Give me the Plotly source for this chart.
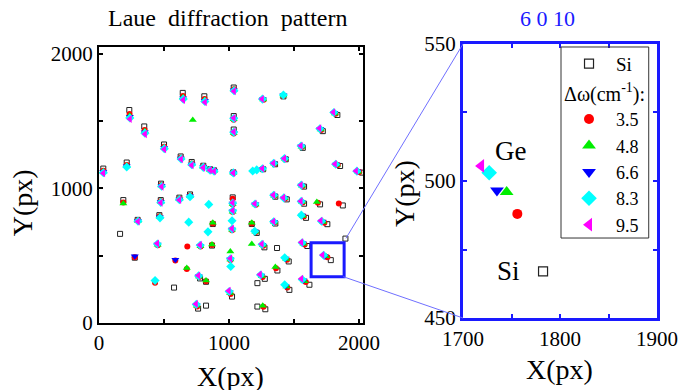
import plotly.graph_objects as go

# ---------------- data (pixel coordinates of Laue spots) ----------------
si_x = [644, 810, 1036, 1418, 233, 1036, 1833, 348, 1036, 1721, 500, 1567, 628, 713, 802,
        854, 885, 1033, 1262, 1354, 1436, 1854, 2023, 33, 213, 477, 1577, 187, 475, 618,
        700, 1028, 1356, 1444, 1577, 1700, 1875, 464, 297, 875, 1175, 1356, 1592, 1756, 162,
        1213, 869, 1272, 1369, 1602, 1895, 275, 1782.5, 1459, 1372, 777, 823, 1275, 1618, 577,
        1218, 1464, 1023, 762, 823, 1218, 1279]
si_y = [1709, 1684, 1749, 1683, 1582, 1537, 1545, 1460, 1437, 1425, 1326, 1301, 1237, 1196, 1168,
        1142, 1134, 1119, 1142, 1179, 1216, 1166, 1117, 1147, 1192, 1035, 1013, 913, 913, 931,
        955, 933, 938, 918, 886, 881, 873, 801, 766, 735, 735, 739, 781, 734, 662,
        669, 575, 562, 557, 572, 627, 485, 467, 457, 390, 331, 306, 328, 284, 263,
        296, 246, 196, 107, 129, 122, 102]

# Δω = 3.5 cm-1
d35_x = [646, 812, 1037, 235, 1819, 351, 1709, 501, 1560, 629, 713, 802, 854, 885, 1033,
         1259, 1348, 1431, 1836, 2002, 33, 479, 1566, 475, 618, 1349, 1432, 1566, 298, 1349,
         1733, 1263, 1581, 1756, 771, 1258, 1590, 1012, 755,
         1266, 1036, 1036, 1028, 1028, 1206, 1023, 452, 781, 1010,
         1418, 213, 700, 1575, 1206, 1446, 1448, 466, 431,
         187, 1683, 875, 1175, 869, 675, 1361, 823, 1265,
         1028, 679, 1844, 275, 587]
d35_y = [1686, 1664, 1737, 1552, 1554, 1434, 1434, 1310, 1308, 1228, 1185, 1162, 1138, 1131, 1117,
         1144, 1183, 1219, 1173, 1122, 1131, 1025, 1018, 904, 923, 943, 924, 895, 761, 746,
         745, 573, 584, 488, 341, 342, 304, 215, 123,
         1658, 1510, 1408, 881, 824, 878, 689, 578, 568, 468,
         1688, 1174, 947, 791, 675, 469, 264, 793, 299,
         895, 893, 739, 739, 579, 402, 407, 311, 121,
         923, 569, 888, 489, 464]

# Δω = 4.8 cm-1
d48_x = [646, 813, 1037, 236, 1814, 352, 1705, 501, 1558, 630, 713, 802, 854, 885, 1033,
         1258, 1346, 1429, 1830, 1994, 33, 480, 1562, 475, 618, 1347, 1428, 1562, 299, 1347,
         1724, 1260, 1573, 1745, 769, 1252, 1580, 1008, 752,
         1263, 1036, 1036, 1028, 1028, 1204, 1023, 451, 780, 1010,
         1418, 213, 700, 1568, 1203, 1440, 1441, 467,
         721, 187, 1675, 875, 1175, 869, 1010, 1175, 675, 1356, 823, 1259]
d48_y = [1677, 1657, 1732, 1540, 1557, 1425, 1438, 1304, 1310, 1224, 1181, 1159, 1137, 1130, 1116,
         1145, 1184, 1220, 1175, 1124, 1125, 1021, 1020, 901, 920, 945, 926, 898, 759, 748,
         750, 577, 589, 496, 345, 348, 311, 223, 129,
         1660, 1513, 1411, 884, 827, 880, 692, 581, 571, 471,
         1690, 1168, 944, 795, 677, 475, 271, 789,
         1507, 888, 898, 744, 744, 584, 532, 587, 408, 416, 316, 129]

# Δω = 6.6 cm-1
d66_x = [647, 814, 1037, 237, 1810, 352, 1702, 501, 1556, 630, 713, 802, 854, 885, 1033,
         1258, 1344, 1428, 1825, 1989, 33, 481, 1558, 475, 618, 1345, 1425, 1558, 299, 1345,
         1718, 1257, 1567, 1735, 767, 1247, 1572, 1004, 750,
         1260, 1036, 1036, 1028, 1028, 1202, 1023, 450, 779, 1010,
         1418, 213, 700, 1562, 1201, 1434, 1435, 468,
         275, 587]
d66_y = [1670, 1651, 1729, 1532, 1560, 1417, 1441, 1300, 1312, 1221, 1178, 1158, 1136, 1129, 1115,
         1146, 1185, 1220, 1177, 1126, 1121, 1019, 1022, 898, 918, 947, 928, 900, 757, 750,
         753, 581, 592, 496.5, 347, 352, 317, 228, 133,
         1662, 1516, 1414, 887, 830, 882, 695, 584, 574, 474,
         1692, 1164, 941, 798, 679, 480, 277, 785,
         495, 470]

# Δω = 8.3 cm-1
d83_x = [648, 814, 1038, 237, 1806, 353, 1698, 502, 1554, 631, 713, 802, 854, 885, 1033,
         1257, 1343, 1426, 1820, 1983, 33, 481, 1555, 475, 618, 1343, 1421, 1555, 300, 1343,
         1711, 1254, 1562, 1727, 766, 1242, 1563, 1001, 748,
         1257, 1036, 1036, 1028, 1028, 1200, 1023, 449, 778, 1010,
         1418, 1182, 1213, 213, 700, 844, 690, 1023, 1556, 838, 1198, 1013, 1428, 431, 1428, 469]
d83_y = [1663, 1645, 1725, 1523, 1563, 1410, 1443, 1295, 1314, 1219, 1175, 1156, 1135, 1128, 1115,
         1146, 1186, 1221, 1179, 1128, 1116, 1016, 1024, 895, 915, 949, 929, 903, 756, 752,
         756, 584, 596, 503, 350, 356, 323, 234, 138,
         1663, 1519, 1417, 890, 833, 884, 698, 587, 577, 477,
         1694, 1129, 1137, 1159, 938, 881, 749, 759, 801, 677, 681, 420, 485, 316, 284, 781]

# Δω = 9.5 cm-1
d95_x = [648, 815, 1038, 238, 1802, 354, 1695, 502, 1552, 631, 713, 802, 854, 885, 1033,
         1256, 1341, 1425, 1815, 1977, 33, 482, 1552, 475, 618, 1341, 1418, 1552, 300, 1341,
         1705, 1252, 1556, 1718.6, 764, 1238, 1556, 998, 746,
         1254, 1036, 1036, 1028, 1028, 1198, 1023, 448, 777, 1010]
d95_y = [1657, 1640, 1722, 1515, 1565, 1403, 1446, 1291, 1316, 1216, 1172, 1154, 1134, 1127, 1114,
         1147, 1187, 1222, 1181, 1129, 1112, 1013, 1025, 893, 913, 950, 931, 905, 754, 754,
         759, 587, 599, 505.5, 353, 360, 328, 239, 142,
         1664, 1522, 1420, 893, 836, 886, 701, 590, 580, 480]

series_names = ["3.5", "4.8", "6.6", "8.3", "9.5"]
series_x = [d35_x, d48_x, d66_x, d83_x, d95_x]
series_y = [d35_y, d48_y, d66_y, d83_y, d95_y]
series_colors = ["#ff0000", "#00ee00", "#0000ff", "#00ffff", "#ff00ff"]
series_symbols = ["circle", "triangle-up", "triangle-down", "diamond", "triangle-left"]
series_size_left = [6, 7, 7, 7, 7]
series_size_right = [10, 12, 12, 12, 12]

left_tick_vals = [0, 500, 1000, 1500, 2000]
left_tick_text = ["0", " ", "1000", " ", "2000"]
zoom_x_vals = [1700, 1750, 1800, 1850, 1900]
zoom_x_text = ["1700", " ", "1800", " ", "1900"]
zoom_y_vals = [450, 475, 500, 525, 550]
zoom_y_text = ["450", " ", "500", " ", "550"]

# zoom window (drawn in the left panel)
box_x = [1631, 1885]
box_y = [343, 597]

FONT = "Liberation Serif"
BLUE = "#1a1aff"

fig = go.Figure()

# ---- left panel ----
fig.add_trace(go.Scatter(x=si_x, y=si_y, mode="markers", xaxis="x", yaxis="y",
                         marker=dict(symbol="square-open", size=5, color="#222222",
                                     line=dict(width=1)),
                         showlegend=False, hoverinfo="skip"))
for nm, xs, ys, c, s, sz in zip(series_names, series_x, series_y, series_colors,
                                series_symbols, series_size_left):
    fig.add_trace(go.Scatter(x=xs, y=ys, mode="markers", xaxis="x", yaxis="y",
                             marker=dict(symbol=s, size=sz, color=c, line=dict(width=0)),
                             showlegend=False, hoverinfo="skip"))

# ---- right (zoom) panel ----
fig.add_trace(go.Scatter(x=si_x, y=si_y, mode="markers", xaxis="x2", yaxis="y2", name="Si",
                         marker=dict(symbol="square-open", size=9, color="#222222",
                                     line=dict(width=1.2)),
                         legend="legend", showlegend=True))
for nm, xs, ys, c, s, sz in zip(series_names, series_x, series_y, series_colors,
                                series_symbols, series_size_right):
    fig.add_trace(go.Scatter(x=xs, y=ys, mode="markers", xaxis="x2", yaxis="y2", name=nm,
                             marker=dict(symbol=s, size=sz, color=c, line=dict(width=0)),
                             legend="legend2", showlegend=True))

axis_common = dict(showgrid=False, zeroline=False, ticks="inside", ticklen=4,
                   tickfont=dict(family=FONT, size=21, color="black"), mirror="ticks",
                   automargin=False)

fig.update_layout(
    width=680, height=390,
    margin=dict(l=0, r=0, t=0, b=0, autoexpand=False),
    paper_bgcolor="white", plot_bgcolor="white",
    font=dict(family=FONT, color="black"),
    xaxis=dict(domain=[0.1456, 0.5338], range=[0, 2030], anchor="y",
               tickvals=left_tick_vals, ticktext=left_tick_text,
               showline=True, linecolor="black", linewidth=2, tickcolor="black",
               tickwidth=1.5, **axis_common),
    yaxis=dict(domain=[0.1718, 0.8795], range=[0, 2050], anchor="x",
               tickvals=left_tick_vals, ticktext=left_tick_text,
               showline=True, linecolor="black", linewidth=2, tickcolor="black",
               tickwidth=1.5, **axis_common),
    xaxis2=dict(domain=[0.6809, 0.9662], range=[1700, 1900], anchor="y2",
                tickvals=zoom_x_vals, ticktext=zoom_x_text,
                showline=True, linecolor=BLUE, linewidth=3, tickcolor=BLUE,
                tickwidth=2, **axis_common),
    yaxis2=dict(domain=[0.1846, 0.8872], range=[450, 550], anchor="x2",
                tickvals=zoom_y_vals, ticktext=zoom_y_text,
                showline=True, linecolor=BLUE, linewidth=3, tickcolor=BLUE,
                tickwidth=2, **axis_common),
    legend=dict(x=0.8265, y=0.885, xanchor="left", yanchor="top", itemwidth=44,
                bgcolor="rgba(0,0,0,0)", borderwidth=0,
                font=dict(family=FONT, size=19, color="black")),
    legend2=dict(x=0.8265, y=0.808, xanchor="left", yanchor="top", itemwidth=44,
                 bgcolor="rgba(0,0,0,0)", borderwidth=0,
                 title=dict(text="Δω(cm<sup>-1</sup>):", font=dict(family=FONT, size=20)),
                 font=dict(family=FONT, size=18, color="black")),
)

shapes = [
    dict(type="rect", xref="x", yref="y", x0=box_x[0], x1=box_x[1], y0=box_y[0], y1=box_y[1],
         line=dict(color=BLUE, width=3)),
    dict(type="line", xref="paper", yref="paper", x0=0.5088, y0=0.389, x1=0.6809, y1=0.8872,
         line=dict(color="#7070ff", width=1)),
    dict(type="line", xref="paper", yref="paper", x0=0.5049, y0=0.2905, x1=0.6809, y1=0.1846,
         line=dict(color="#7070ff", width=1)),
    dict(type="rect", xref="paper", yref="paper", x0=0.825, x1=0.954, y0=0.3897, y1=0.8795,
         line=dict(color="#333333", width=1), fillcolor="rgba(0,0,0,0)"),
]
fig.update_layout(shapes=shapes)

ann_common = dict(xref="paper", yref="paper", showarrow=False, xanchor="center", yanchor="middle")
annotations = [
    dict(text="Laue&nbsp; diffraction&nbsp; pattern", x=0.335, y=0.954,
         font=dict(family=FONT, size=24, color="black"), **ann_common),
    dict(text="6 0 10", x=0.8045, y=0.952,
         font=dict(family=FONT, size=22, color=BLUE), **ann_common),
    dict(text="X(px)", x=0.3397, y=0.035,
         font=dict(family=FONT, size=28, color="black"), **ann_common),
    dict(text="Y(px)", x=0.0324, y=0.479, textangle=-90,
         font=dict(family=FONT, size=28, color="black"), **ann_common),
    dict(text="X(px)", x=0.8235, y=0.053,
         font=dict(family=FONT, size=28, color="black"), **ann_common),
    dict(text="Y(px)", x=0.594, y=0.505, textangle=-90,
         font=dict(family=FONT, size=28, color="black"), **ann_common),
    dict(text="Ge", x=1749, y=511, xref="x2", yref="y2", showarrow=False,
         xanchor="center", yanchor="middle",
         font=dict(family=FONT, size=27, color="black")),
    dict(text="Si", x=1747, y=467, xref="x2", yref="y2", showarrow=False,
         xanchor="center", yanchor="middle",
         font=dict(family=FONT, size=27, color="black")),
]
fig.update_layout(annotations=annotations)

fig.write_html("out.html", config={"displayModeBar": False},
               post_script="document.body.style.margin='0px';"
                           "document.body.style.overflow='hidden';")
